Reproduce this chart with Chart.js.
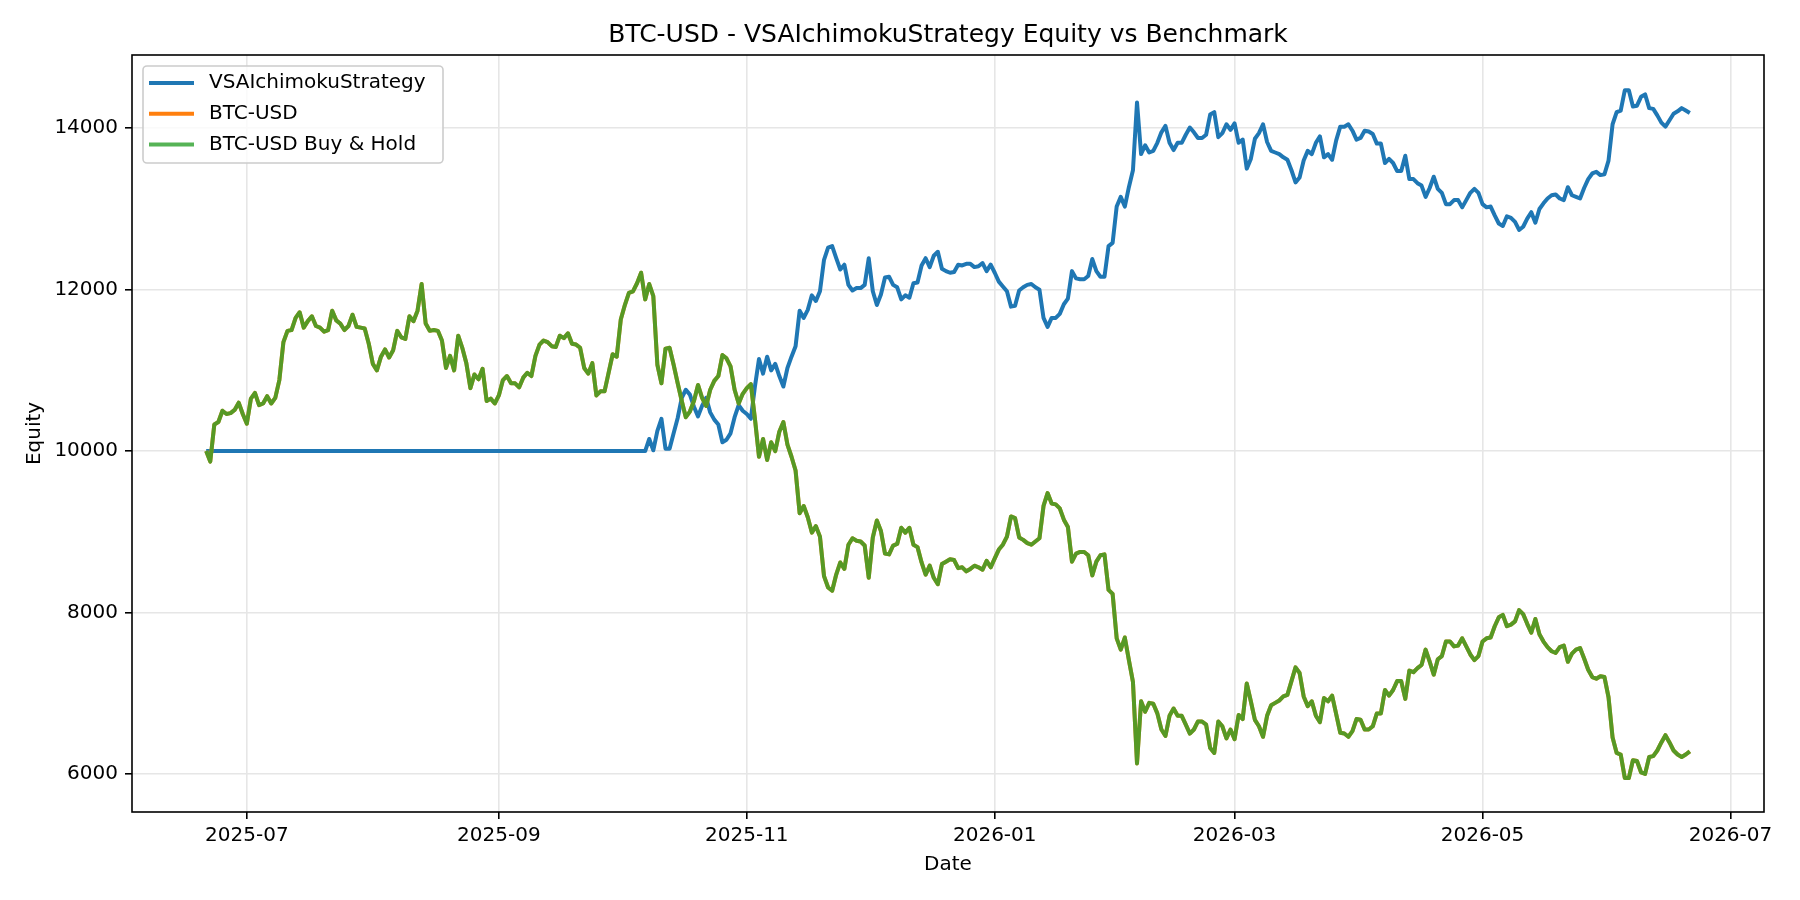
<!DOCTYPE html>
<html>
<head>
<meta charset="utf-8">
<script src="https://cdn.jsdelivr.net/npm/chart.js@4.4.0/dist/chart.umd.min.js"></script>
<style>
  html, body { margin: 0; padding: 0; background: #fff; }
  #wrap { width: 1800px; height: 900px; }
</style>
</head>
<body>
<div id="wrap"><canvas id="equityChart" width="1800" height="900"></canvas></div>
<script>
// datos diarios desde 2025-06-21 (366 dias)
const START_DATE = '2025-06-21';
const titleText = 'BTC-USD - VSAIchimokuStrategy Equity vs Benchmark';
const seriesNames = ['VSAIchimokuStrategy', 'BTC-USD', 'BTC-USD Buy & Hold'];
const xTickLabels = ['2025-07', '2025-09', '2025-11', '2026-01', '2026-03', '2026-05', '2026-07'];
const yTicks = [6000, 8000, 10000, 12000, 14000];

const strategyEquity = [
  10000, 10000, 10000, 10000, 10000, 10000, 10000, 10000, 10000, 10000,
  10000, 10000, 10000, 10000, 10000, 10000, 10000, 10000, 10000, 10000,
  10000, 10000, 10000, 10000, 10000, 10000, 10000, 10000, 10000, 10000,
  10000, 10000, 10000, 10000, 10000, 10000, 10000, 10000, 10000, 10000,
  10000, 10000, 10000, 10000, 10000, 10000, 10000, 10000, 10000, 10000,
  10000, 10000, 10000, 10000, 10000, 10000, 10000, 10000, 10000, 10000,
  10000, 10000, 10000, 10000, 10000, 10000, 10000, 10000, 10000, 10000,
  10000, 10000, 10000, 10000, 10000, 10000, 10000, 10000, 10000, 10000,
  10000, 10000, 10000, 10000, 10000, 10000, 10000, 10000, 10000, 10000,
  10000, 10000, 10000, 10000, 10000, 10000, 10000, 10000, 10000, 10000,
  10000, 10000, 10000, 10000, 10000, 10000, 10000, 10000, 10000, 10150,
  10010, 10250, 10400, 10030, 10030, 10220, 10410, 10660, 10760, 10700,
  10550, 10430, 10560, 10660, 10480, 10390, 10330, 10110, 10140, 10220,
  10420, 10570, 10500, 10460, 10400, 10800, 11140, 10960, 11170, 11000,
  11080, 10930, 10800, 11030, 11170, 11300, 11740, 11650, 11750, 11930,
  11860, 11980, 12370, 12520, 12540, 12390, 12250, 12310, 12060, 11990,
  12020, 12020, 12060, 12390, 11980, 11810, 11940, 12150, 12160, 12060,
  12030, 11880, 11930, 11900, 12080, 12090, 12300, 12390, 12280, 12420,
  12470, 12260, 12230, 12210, 12220, 12310, 12300, 12320, 12320, 12280,
  12290, 12330, 12230, 12310, 12210, 12100, 12040, 11980, 11790, 11800,
  11990, 12030, 12060, 12070, 12030, 12000, 11650, 11540, 11650, 11650,
  11700, 11820, 11890, 12230, 12140, 12130, 12130, 12170, 12380, 12230,
  12160, 12160, 12540, 12580, 13030, 13150, 13030, 13270, 13480, 14320,
  13680, 13790, 13700, 13720, 13820, 13950, 14030, 13820, 13730, 13820,
  13820, 13920, 14010, 13950, 13880, 13880, 13920, 14170, 14200, 13890,
  13940, 14050, 13980, 14060, 13820, 13860, 13500, 13620, 13870, 13940,
  14050, 13830, 13720, 13700, 13680, 13640, 13610, 13480, 13330, 13390,
  13600, 13720, 13680, 13820, 13900, 13640, 13680, 13610, 13850, 14020,
  14020, 14050, 13970, 13860, 13880, 13970, 13960, 13930, 13810, 13810,
  13570, 13620, 13570, 13470, 13470, 13660, 13370, 13370, 13320, 13290,
  13150, 13260, 13400, 13250, 13200, 13060, 13060, 13110, 13110, 13020,
  13110, 13200, 13250, 13200, 13060, 13020, 13030, 12920, 12820, 12790,
  12910, 12890, 12840, 12740, 12780, 12880, 12960, 12830, 13000, 13070,
  13130, 13170, 13180, 13130, 13110, 13270, 13170, 13150, 13130, 13260,
  13370, 13440, 13460, 13420, 13430, 13600, 14050, 14200, 14220, 14470,
  14470, 14270, 14280, 14390, 14420, 14250, 14240, 14160, 14070, 14020,
  14100, 14180, 14210, 14250, 14220, 14190
];

const buyHoldEquity = [
  10000, 9870, 10330, 10360, 10500, 10460, 10470, 10510, 10600, 10460,
  10340, 10650, 10720, 10570, 10590, 10680, 10590, 10660, 10880, 11350,
  11490, 11500, 11650, 11720, 11530, 11610, 11670, 11550, 11530, 11480,
  11500, 11740, 11620, 11580, 11500, 11550, 11690, 11540, 11530, 11520,
  11330, 11080, 11000, 11170, 11260, 11160, 11250, 11490, 11410, 11390,
  11670, 11610, 11740, 12070, 11580, 11490, 11500, 11490, 11370, 11030,
  11180, 11000, 11430, 11280, 11090, 10780, 10950, 10890, 11020, 10620,
  10650, 10590, 10690, 10880, 10930, 10840, 10840, 10790, 10910, 10970,
  10930, 11180, 11320, 11370, 11350, 11300, 11290, 11430, 11400, 11460,
  11330, 11320, 11280, 11030, 10960, 11090, 10690, 10740, 10740, 10970,
  11200, 11170, 11630, 11810, 11960, 11980, 12080, 12210, 11880, 12070,
  11920, 11070, 10840, 11270, 11280, 11070, 10840, 10620, 10420, 10490,
  10620, 10820, 10660, 10560, 10760, 10870, 10930, 11190, 11150, 11050,
  10760, 10590, 10710, 10780, 10830, 10400, 9930, 10150, 9890, 10110,
  10000, 10240, 10360, 10080, 9930, 9760, 9230, 9320, 9180, 8990,
  9070, 8940, 8450, 8310, 8270, 8470, 8620, 8540, 8840, 8920,
  8890, 8880, 8830, 8430, 8930, 9140, 9010, 8730, 8720, 8830,
  8850, 9050, 8990, 9050, 8840, 8810, 8620, 8470, 8580, 8430,
  8350, 8600, 8630, 8660, 8650, 8550, 8560, 8510, 8540, 8580,
  8560, 8530, 8640, 8560, 8670, 8780, 8840, 8940, 9190, 9170,
  8930, 8900, 8860, 8840, 8880, 8920, 9320, 9480, 9350, 9340,
  9290, 9150, 9060, 8630, 8730, 8750, 8750, 8710, 8460, 8630,
  8710, 8720, 8280, 8230, 7680, 7540, 7690, 7410, 7140, 6130,
  6900, 6770, 6880, 6870, 6750, 6550, 6470, 6720, 6810, 6720,
  6720, 6610, 6500, 6550, 6650, 6650, 6610, 6320, 6260, 6650,
  6590, 6440, 6550, 6430, 6730, 6680, 7120, 6900, 6670, 6590,
  6460, 6720, 6850, 6880, 6910, 6960, 6980, 7150, 7320, 7250,
  6960, 6840, 6900, 6720, 6640, 6940, 6900, 6970, 6740, 6510,
  6500, 6460, 6530, 6680, 6670, 6550, 6550, 6590, 6750, 6750,
  7040, 6970, 7040, 7150, 7150, 6930, 7280, 7260, 7310, 7350,
  7540, 7390, 7230, 7420, 7460, 7640, 7640, 7580, 7590, 7680,
  7580, 7480, 7410, 7460, 7640, 7680, 7690, 7830, 7940, 7970,
  7830, 7850, 7890, 8030, 7980, 7860, 7750, 7920, 7730, 7640,
  7570, 7520, 7500, 7570, 7590, 7390, 7490, 7540, 7560, 7430,
  7290, 7200, 7180, 7210, 7200, 6950, 6450, 6260, 6240, 5950,
  5950, 6170, 6160, 6020, 6000, 6210, 6220, 6290, 6390, 6480,
  6390, 6290, 6240, 6210, 6240, 6280
];

// BTC-USD normalizado coincide con el buy & hold (queda tapado por la linea verde)
const btcUsdEquity = buyHoldEquity;

const DAY = 86400000;
const t0 = Date.parse(START_DATE + 'T00:00:00Z');

function toPoints(vals) {
  return vals.map((v, i) => ({ x: t0 + i * DAY, y: v }));
}

function monthStart(lbl) {
  const [y, m] = lbl.split('-').map(Number);
  return Date.UTC(y, m - 1, 1);
}

function fmtMonth(ms) {
  const d = new Date(ms);
  return d.getUTCFullYear() + '-' + String(d.getUTCMonth() + 1).padStart(2, '0');
}

// margen 5% como matplotlib
const lastX = t0 + (strategyEquity.length - 1) * DAY;
const xPad = (lastX - t0) * 0.05;

const FONT = 'DejaVu Sans';
const LINE_W = 4;
Chart.defaults.font.family = FONT;
Chart.defaults.color = '#000';

// marco negro alrededor del area (spines)
const frame = {
  id: 'frame',
  afterDraw(chart) {
    const { ctx, chartArea: a } = chart;
    ctx.save();
    ctx.strokeStyle = '#000';
    ctx.lineWidth = 1.6;
    ctx.strokeRect(a.left, a.top, a.right - a.left, a.bottom - a.top);
    ctx.restore();
  }
};

// leyenda dentro del grafico, arriba a la izquierda
const legendBox = {
  id: 'legendBox',
  afterDraw(chart) {
    const { ctx, chartArea: a } = chart;
    const x = a.left + 11, y = a.top + 11, w = 300, h = 97;
    ctx.save();
    ctx.beginPath();
    ctx.roundRect(x, y, w, h, 4);
    ctx.fillStyle = 'rgba(255,255,255,0.8)';
    ctx.fill();
    ctx.strokeStyle = '#cccccc';
    ctx.lineWidth = 1.6;
    ctx.stroke();
    ctx.font = '20px "' + FONT + '"';
    ctx.textBaseline = 'middle';
    chart.data.datasets.forEach((ds, i) => {
      const cy = y + 17 + i * 30.8;
      ctx.beginPath();
      ctx.moveTo(x + 6, cy);
      ctx.lineTo(x + 51, cy);
      ctx.strokeStyle = ds.borderColor;
      ctx.lineWidth = LINE_W;
      ctx.stroke();
      ctx.fillStyle = '#000';
      ctx.fillText(ds.label, x + 66, cy);
    });
    ctx.restore();
  }
};

new Chart(document.getElementById('equityChart'), {
  type: 'line',
  data: {
    datasets: [
      { label: seriesNames[0], data: toPoints(strategyEquity), borderColor: '#1f77b4', order: 3 },
      { label: seriesNames[1], data: toPoints(btcUsdEquity), borderColor: '#ff7f0e', order: 2 },
      { label: seriesNames[2], data: toPoints(buyHoldEquity), borderColor: 'rgba(44,160,44,0.8)', order: 1 }
    ]
  },
  options: {
    responsive: false,
    animation: false,
    parsing: false,
    layout: { padding: { top: 0, left: 0, right: 36, bottom: 0 } },
    elements: {
      line: { borderWidth: LINE_W, tension: 0, borderJoinStyle: 'round', fill: false },
      point: { radius: 0 }
    },
    scales: {
      x: {
        type: 'linear',
        min: t0 - xPad,
        max: lastX + xPad,
        afterFit: (s) => { s.height = 88; },
        afterBuildTicks: (s) => { s.ticks = xTickLabels.map(l => ({ value: monthStart(l) })); },
        ticks: {
          autoSkip: false, maxRotation: 0, padding: 5,
          font: { size: 20 }, color: '#000',
          callback: (v) => fmtMonth(v)
        },
        grid: { color: '#e6e6e6', lineWidth: 1.6, tickColor: '#000', tickWidth: 1.6, tickLength: 7 },
        border: { display: false },
        title: { display: true, text: 'Date', font: { size: 20 }, color: '#000', padding: { top: 0, bottom: 23 } }
      },
      y: {
        type: 'linear',
        min: 5528,
        max: 14908,
        afterFit: (s) => { s.width = 132; },
        afterBuildTicks: (s) => { s.ticks = yTicks.map(v => ({ value: v })); },
        ticks: { padding: 7, font: { size: 20 }, color: '#000', callback: (v) => String(v) },
        grid: { color: '#e6e6e6', lineWidth: 1.6, tickColor: '#000', tickWidth: 1.6, tickLength: 7 },
        border: { display: false },
        title: { display: true, text: 'Equity', font: { size: 20 }, color: '#000', padding: { top: 23, bottom: 0 } }
      }
    },
    plugins: {
      legend: { display: false },
      tooltip: { enabled: false },
      title: {
        display: true,
        fullSize: false,
        text: titleText,
        color: '#000',
        font: { size: 25, weight: 'normal' },
        padding: { top: 20, bottom: 5 }
      }
    }
  },
  plugins: [frame, legendBox]
});
</script>
</body>
</html>
